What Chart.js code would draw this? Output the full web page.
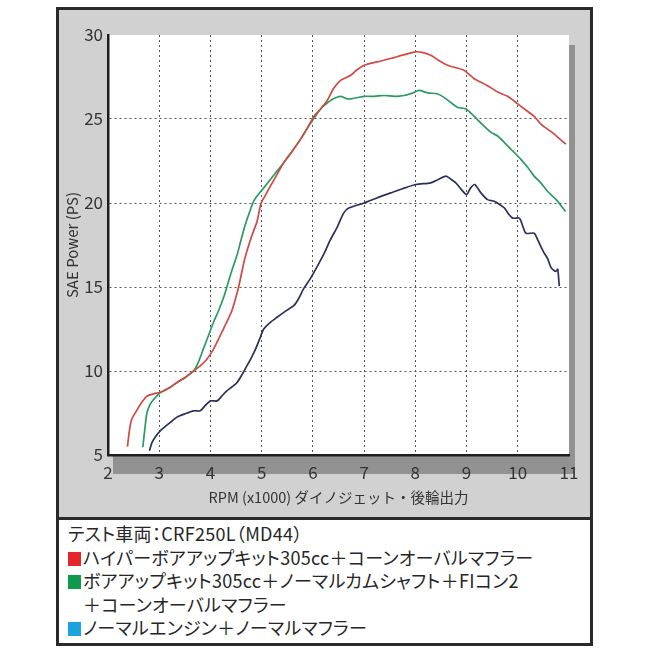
<!DOCTYPE html>
<html>
<head>
<meta charset="utf-8">
<script src="https://cdn.jsdelivr.net/npm/chart.js@4"></script>
<style>
  body { margin: 0; background: #fff; width: 650px; height: 650px; position: relative; overflow: hidden; }
  #frame { position: absolute; left: 56px; top: 7px; width: 537px; height: 513px; box-sizing: border-box;
           border: 3px solid #2a2a2a; background: #d1d1d1; }
  #chartWrap { position: absolute; left: 0; top: 0; width: 650px; height: 520px; }
  #legendBox { position: absolute; left: 56px; top: 517px; width: 537px; height: 129px; box-sizing: border-box;
               border: 3px solid #2a2a2a; background: #fff; padding: 2px 0 0 9px;
               font-family: "Noto Sans CJK JP", sans-serif; font-size: 18px; line-height: 23.6px; color: #262626;
               font-feature-settings: "palt"; letter-spacing: 0.3px; }
  .sq { display: inline-block; width: 13px; height: 14px; margin-right: 2px; vertical-align: -1px; }
  .indent { padding-left: 15px; }
</style>
</head>
<body>
<div id="frame"></div>
<div id="chartWrap"><canvas id="myChart" width="650" height="520"></canvas></div>
<div id="legendBox">
  <div>テスト車両：CRF250L（MD44）</div>
  <div><span class="sq" style="background:#e4262b"></span>ハイパーボアアップキット305cc＋コーンオーバルマフラー</div>
  <div><span class="sq" style="background:#0e9a4a"></span>ボアアップキット305cc＋ノーマルカムシャフト＋FIコン2</div>
  <div class="indent">＋コーンオーバルマフラー</div>
  <div><span class="sq" style="background:#1ca2dc"></span>ノーマルエンジン＋ノーマルマフラー</div>
</div>
<script>
    // ハイパーボアアップキット305cc + コーンオーバルマフラー
    const redRpm = [2.38, 2.42, 2.46, 2.55, 2.65, 2.76, 2.9, 3.02, 3.2, 3.34, 3.5, 3.67, 3.8, 3.93, 4.06, 4.19, 4.3, 4.42, 4.55, 4.62, 4.68, 4.78, 4.85, 4.91, 4.99, 5.08, 5.17, 5.3, 5.43, 5.6, 5.76, 5.9, 6.02, 6.15, 6.28, 6.4, 6.54, 6.74, 6.85, 7.0, 7.25, 7.52, 7.75, 8.01, 8.15, 8.3, 8.45, 8.63, 8.8, 8.95, 9.15, 9.4, 9.61, 9.8, 10.0, 10.15, 10.32, 10.45, 10.58, 10.75, 10.94]
    const redPs = [5.5, 6.5, 7.1, 7.6, 8.1, 8.5, 8.65, 8.72, 9.0, 9.3, 9.6, 10.0, 10.3, 10.7, 11.3, 12.1, 12.8, 13.6, 15.0, 16.0, 16.8, 17.8, 18.4, 18.9, 20.0, 20.5, 21.0, 21.7, 22.4, 23.1, 23.8, 24.5, 25.15, 25.6, 26.1, 26.8, 27.3, 27.6, 27.9, 28.2, 28.4, 28.6, 28.8, 29.0, 28.95, 28.8, 28.5, 28.2, 28.05, 27.9, 27.4, 27.0, 26.6, 26.35, 25.9, 25.55, 25.15, 24.7, 24.4, 24.0, 23.5]

    // ボアアップキット305cc + ノーマルカムシャフト + FIコン2
    const greenRpm = [2.68, 2.71, 2.76, 2.82, 2.89, 3.02, 3.2, 3.34, 3.5, 3.67, 3.76, 3.86, 3.96, 4.06, 4.16, 4.26, 4.34, 4.42, 4.52, 4.58, 4.68, 4.78, 4.86, 5.04, 5.17, 5.3, 5.43, 5.6, 5.76, 5.9, 6.08, 6.18, 6.28, 6.4, 6.54, 6.67, 6.74, 7.0, 7.2, 7.39, 7.6, 7.78, 7.95, 8.07, 8.25, 8.43, 8.6, 8.82, 8.99, 9.15, 9.3, 9.48, 9.6, 9.74, 9.9, 10.06, 10.2, 10.32, 10.45, 10.58, 10.75, 10.93]
    const greenPs = [5.46, 6.3, 7.5, 8.0, 8.3, 8.72, 9.0, 9.3, 9.6, 10.0, 10.5, 11.3, 12.1, 12.9, 13.6, 14.4, 15.2, 16.0, 16.9, 17.6, 18.7, 19.6, 20.2, 20.9, 21.4, 21.9, 22.4, 23.1, 23.8, 24.5, 25.3, 25.7, 25.95, 26.2, 26.35, 26.2, 26.2, 26.35, 26.35, 26.4, 26.35, 26.4, 26.55, 26.7, 26.55, 26.5, 26.2, 25.7, 25.6, 25.15, 24.7, 24.2, 24.0, 23.6, 23.1, 22.6, 22.1, 21.6, 21.2, 20.7, 20.2, 19.5]

    // ノーマルエンジン + ノーマルマフラー
    const blueRpm = [2.81, 2.86, 2.93, 3.02, 3.18, 3.34, 3.5, 3.67, 3.8, 3.9, 4.0, 4.13, 4.22, 4.32, 4.42, 4.52, 4.62, 4.71, 4.8, 4.88, 4.96, 5.04, 5.17, 5.3, 5.46, 5.63, 5.72, 5.82, 5.95, 6.08, 6.22, 6.34, 6.48, 6.6, 6.7, 7.0, 7.25, 7.52, 7.75, 8.01, 8.3, 8.45, 8.6, 8.7, 8.79, 8.9, 9.0, 9.08, 9.16, 9.28, 9.41, 9.54, 9.65, 9.74, 9.82, 9.9, 10.03, 10.1, 10.16, 10.32, 10.39, 10.5, 10.58, 10.65, 10.72, 10.75, 10.78, 10.81]
    const bluePs = [5.26, 5.75, 6.1, 6.44, 6.85, 7.24, 7.45, 7.63, 7.63, 7.95, 8.22, 8.22, 8.5, 8.82, 9.05, 9.32, 9.8, 10.3, 10.8, 11.3, 11.9, 12.5, 12.9, 13.2, 13.55, 13.9, 14.3, 14.9, 15.5, 16.2, 17.0, 17.8, 18.6, 19.4, 19.7, 20.0, 20.3, 20.6, 20.85, 21.1, 21.2, 21.4, 21.6, 21.4, 21.2, 20.8, 20.5, 20.9, 21.1, 20.6, 20.2, 20.1, 19.9, 19.7, 19.35, 19.1, 19.1, 18.6, 18.2, 18.2, 17.8, 17.1, 16.7, 16.15, 15.95, 15.95, 16.05, 15.05]

    const xTicks = [2, 3, 4, 5, 6, 7, 8, 9, 10, 11]
    const yTicks = [5, 10, 15, 20, 25, 30]

    const toPoints = (xs, ys) => xs.map((x, i) => ({x: x, y: ys[i]}))
    const font = "Noto Sans CJK JP"

    // white plot area with grey drop shadow
    const plotBg = {
        id: 'plotBg',
        beforeDraw(chart) {
            const {ctx, chartArea: a} = chart
            ctx.save()
            ctx.fillStyle = '#929292'
            ctx.fillRect(a.left + 5, a.top + 10, a.width + 1, a.height + 9)
            ctx.fillStyle = '#ffffff'
            ctx.fillRect(a.left, a.top, a.width, a.height)
            ctx.restore()
        }
    }

    const line = (data, color) => ({
        data: data,
        borderColor: color,
        borderWidth: 1.7,
        pointRadius: 0,
        tension: 0.25,
        fill: false
    })

    const ctx = document.getElementById('myChart').getContext("2d");
    const chart = new Chart(ctx, {
        type: 'line',
        data: {
            datasets: [
                line(toPoints(redRpm, redPs), '#cf4a42'),
                line(toPoints(greenRpm, greenPs), '#2b9a62'),
                line(toPoints(blueRpm, bluePs), '#2c2f5e')
            ]
        },
        options: {
            responsive: false,
            animation: false,
            layout: { padding: { left: 63, top: 35, right: 81, bottom: 14 } },
            plugins: { legend: { display: false }, tooltip: { enabled: false } },
            scales: {
                x: {
                    type: 'linear',
                    min: 2, max: 11,
                    afterBuildTicks: s => { s.ticks = xTicks.map(v => ({value: v})) },
                    afterFit: s => { s.height = 51 },
                    grid: {
                        drawTicks: false,
                        color: c => (c.tick && (c.tick.value === 2 || c.tick.value === 11)) ? 'rgba(0,0,0,0)' : '#555',
                        lineWidth: 1
                    },
                    border: { color: '#1e1e1e', width: 2.5, dash: [2, 3] },
                    ticks: { color: '#333', padding: 7, font: { family: font, size: 17 }, maxRotation: 0 },
                    title: { display: true, text: 'RPM (x1000) ダイノジェット・後輪出力', color: '#333',
                             padding: 0, font: { family: font, size: 14.5 } }
                },
                y: {
                    min: 5, max: 30,
                    afterBuildTicks: s => { s.ticks = yTicks.map(v => ({value: v})) },
                    afterFit: s => { s.width = 45 },
                    grid: {
                        drawTicks: false,
                        color: c => (c.tick && (c.tick.value === 5 || c.tick.value === 30)) ? 'rgba(0,0,0,0)' : '#555',
                        lineWidth: 1
                    },
                    border: { color: '#1e1e1e', width: 2.5, dash: [2, 3] },
                    ticks: { color: '#333', padding: 5, font: { family: font, size: 17 } },
                    title: { display: true, text: 'SAE Power (PS)', color: '#333',
                             padding: 0, font: { family: font, size: 15 } }
                }
            }
        },
        plugins: [plotBg]
    });
</script>
</body>
</html>
